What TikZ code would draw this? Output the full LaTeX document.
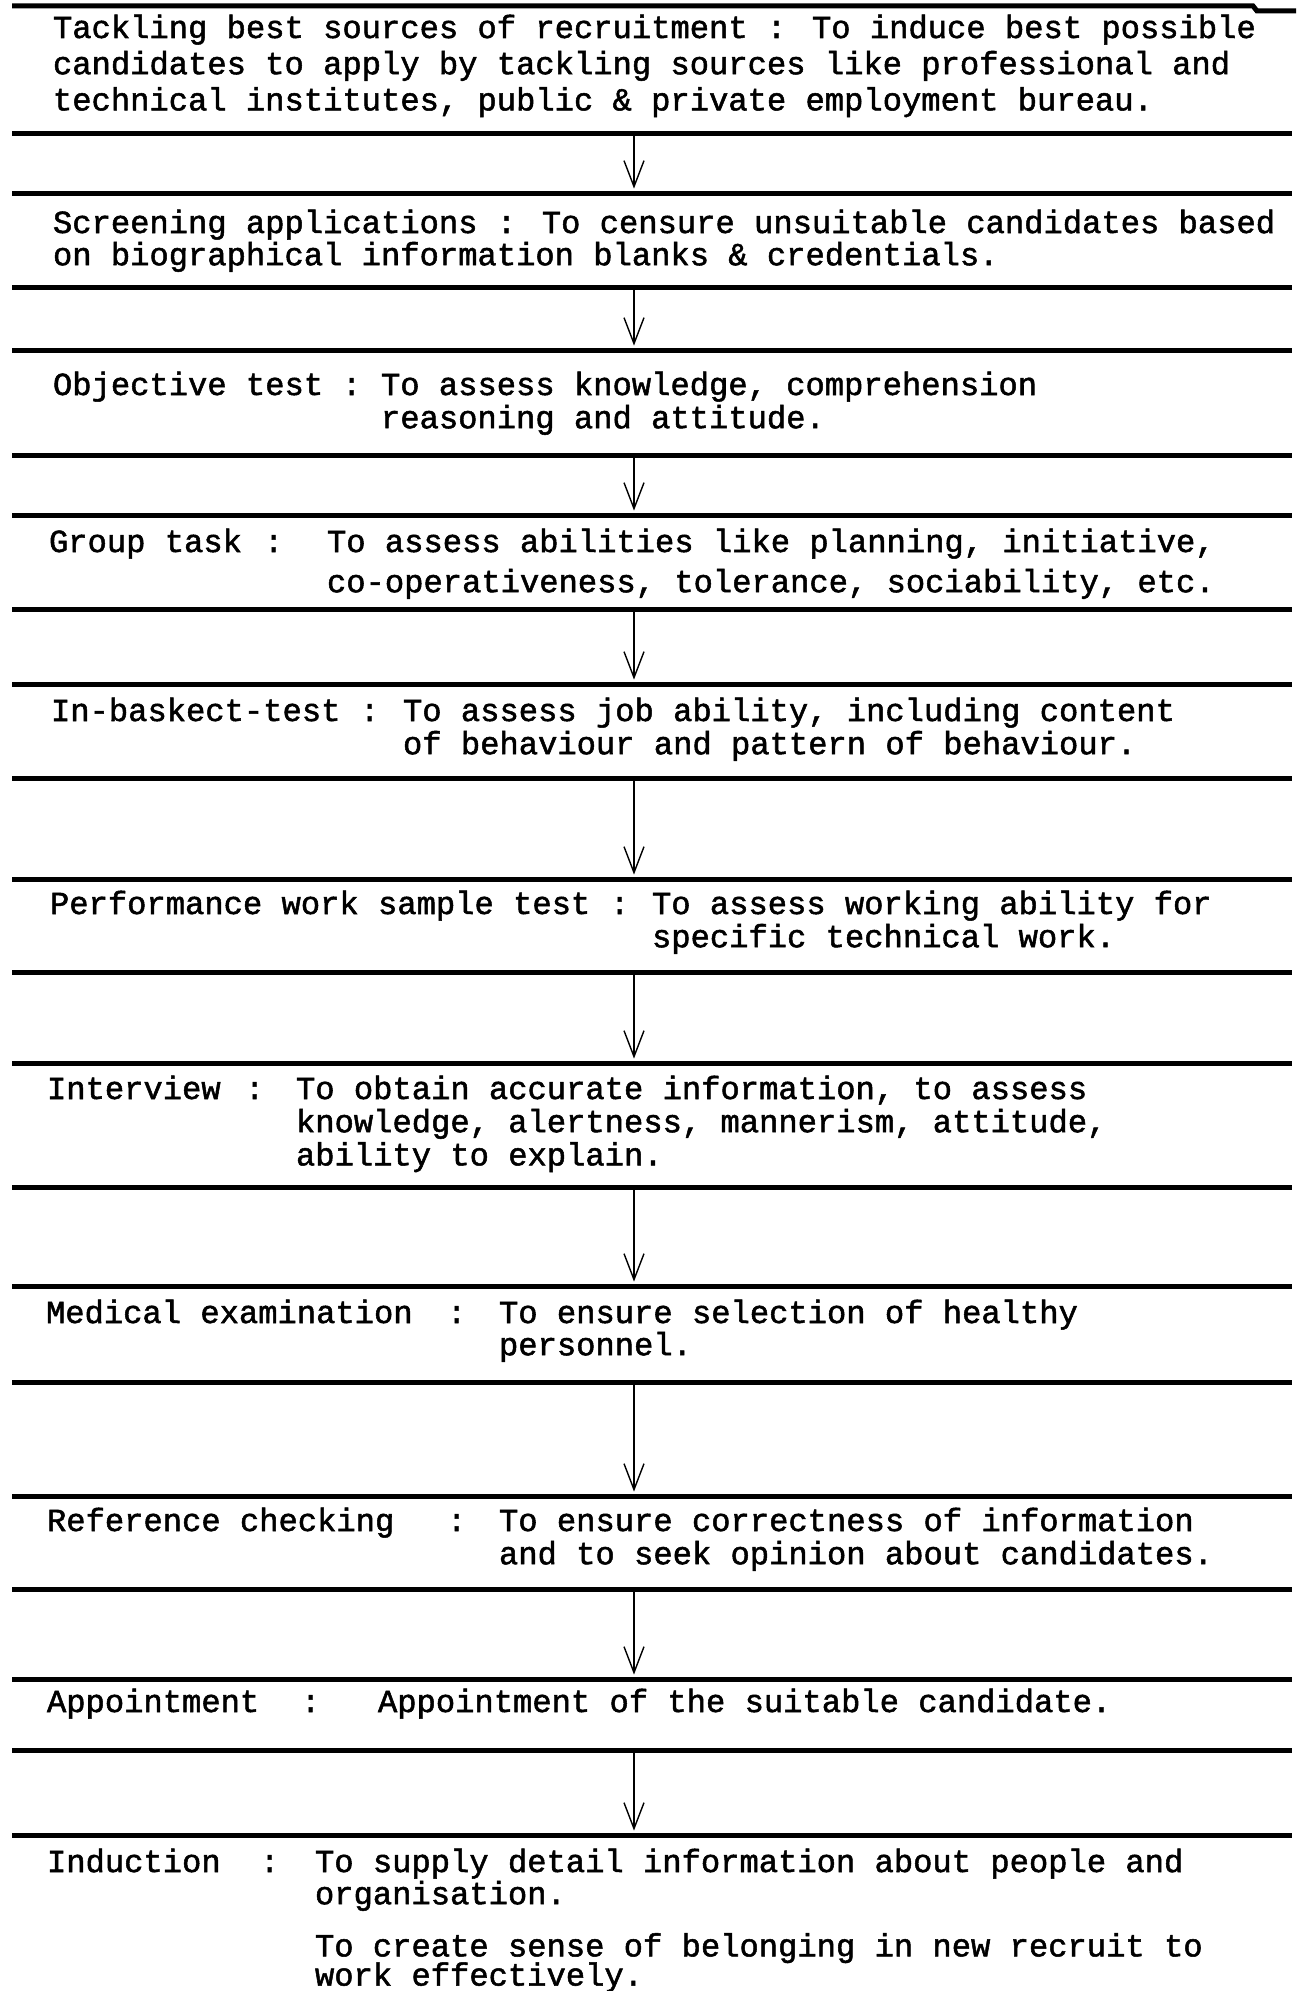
\documentclass[tikz,border=0pt]{standalone}
\usepackage{fontspec}
\newfontfamily\tw[FakeBold=1.6]{Liberation Mono}
\usetikzlibrary{arrows.meta}
\newcommand\tlines[1]{\begin{tabular}[t]{@{}l@{}}#1\end{tabular}}
\begin{document}
\begin{tikzpicture}[x=0.5pt,y=-0.5pt,
  rule/.style={line width=2.5pt},
  arr/.style={line width=0.7pt,-{Straight Barb[length=13pt,width=10pt,line width=0.7pt]}},
  txt/.style={anchor=base west,inner sep=0pt,outer sep=0pt,
              font=\tw\fontsize{16.08pt}{16.5pt}\selectfont}]
\useasboundingbox (0,0) rectangle (1296,1991);

% horizontal rules
\draw[rule] (12,6) -- (1253,6) -- (1257,11) -- (1296,11);
\foreach \i/\y in {1/134,2/193,3/287,4/350,5/455,6/515,7/609,8/684,9/778,10/879,
                   11/972,12/1063,13/1187,14/1286,15/1382,16/1496,17/1589,18/1679,
                   19/1750,20/1835}{
  \draw[rule] (12,\y) -- (1292,\y);
  \coordinate (r\i) at (634,\y);
}

% arrows between the rules
\foreach \a/\b in {1/2,3/4,5/6,7/8,9/10,11/12,13/14,15/16,17/18,19/20}{
  \draw[arr,shorten >=2.2pt] (r\a) -- (r\b);
}

% section 1
\node[txt] (s1) at (53,38) {\tlines{Tackling best sources of recruitment : To induce best possible\\[1.5pt]candidates to apply by tackling sources like professional and\\[1.5pt]technical institutes, public \& private employment bureau.}};

% section 2
\node[txt] (s2) at (53,233) {\tlines{Screening applications : To censure unsuitable candidates based\\[-0.5pt]on biographical information blanks \& credentials.}};

% section 3
\node[txt] (l3) at (53,395) {Objective test};
\node[txt] (c3) at (342,395) {:};
\node[txt] (d3) at (381,395) {\tlines{To assess knowledge, comprehension\\reasoning and attitude.}};

% section 4
\node[txt] (l4) at (49,552) {Group task};
\node[txt] (c4) at (264,552) {:};
\node[txt] (d4) at (327,552) {\tlines{To assess abilities like planning, initiative,\\[3.5pt]co-operativeness, tolerance, sociability, etc.}};

% section 5
\node[txt] (l5) at (51,721) {In-baskect-test};
\node[txt] (c5) at (360,721) {:};
\node[txt] (d5) at (403,721) {\tlines{To assess job ability, including content\\of behaviour and pattern of behaviour.}};

% section 6
\node[txt] (l6) at (50,914) {Performance work sample test};
\node[txt] (c6) at (610,914) {:};
\node[txt] (d6) at (652,914) {\tlines{To assess working ability for\\specific technical work.}};

% section 7
\node[txt] (l7) at (47,1099) {Interview};
\node[txt] (c7) at (245,1099) {:};
\node[txt] (d7) at (296,1099) {\tlines{To obtain accurate information, to assess\\knowledge, alertness, mannerism, attitude,\\ability to explain.}};

% section 8
\node[txt] (l8) at (46,1323) {Medical examination};
\node[txt] (c8) at (447,1323) {:};
\node[txt] (d8) at (499,1323) {\tlines{To ensure selection of healthy\\[-0.5pt]personnel.}};

% section 9
\node[txt] (l9) at (47,1531) {Reference checking};
\node[txt] (c9) at (447,1531) {:};
\node[txt] (d9) at (499,1531) {\tlines{To ensure correctness of information\\and to seek opinion about candidates.}};

% section 10
\node[txt] (l10) at (47,1712) {Appointment};
\node[txt] (c10) at (301,1712) {:};
\node[txt] (d10) at (378,1712) {Appointment of the suitable candidate.};

% section 11
\node[txt] (l11) at (47,1872) {Induction};
\node[txt] (c11) at (260,1872) {:};
\node[txt] (d11) at (315,1872) {\tlines{To supply detail information about people and\\[-0.5pt]organisation.\\[9.5pt]To create sense of belonging in new recruit to\\[-2pt]work effectively.}};
\end{tikzpicture}
\end{document}
